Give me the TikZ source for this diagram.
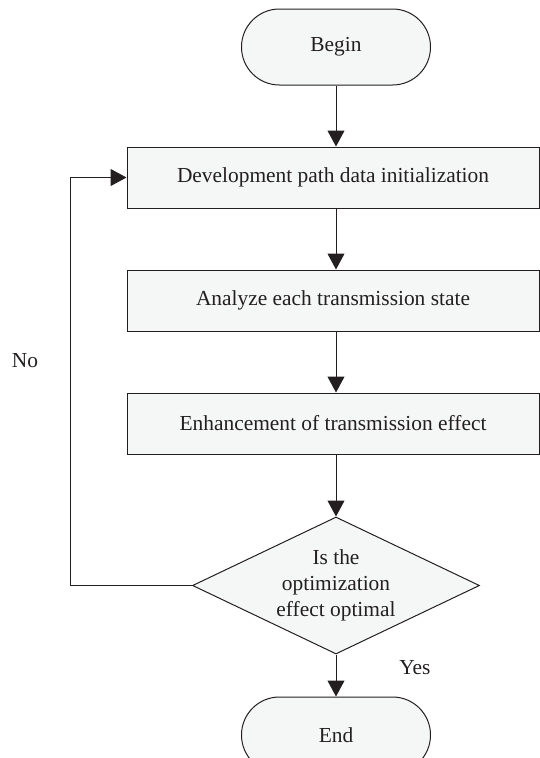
\documentclass[tikz,border=0pt]{standalone}
\usepackage{fontspec}
\setmainfont{Liberation Serif}
\usepackage{xcolor}
\usepackage{tikz}
\usetikzlibrary{arrows.meta,positioning,shapes.geometric}
\definecolor{inkgray}{HTML}{231F20}
\definecolor{paleface}{HTML}{F5F7F7}

\begin{document}
\begin{tikzpicture}[
  x=1pt, y=-1pt,
  node distance=61pt,
  every node/.style={font=\fontsize{21.4}{26}\selectfont, text=inkgray},
  terminal/.style={draw=inkgray, line width=1pt, fill=paleface, rounded corners=37.9pt, minimum width=189pt, minimum height=76pt},
  box/.style={draw=inkgray, line width=1pt, fill=paleface, minimum width=412pt, minimum height=61pt, align=center},
  decision/.style={draw=inkgray, line width=1pt, fill=paleface, diamond, aspect=2.09, minimum width=287pt, minimum height=137pt, inner sep=0pt, align=center},
  arrow/.style={-{Triangle[length=16pt, width=17pt]}, line width=1pt, draw=inkgray}
]
\useasboundingbox (0,0) rectangle (540,758);
\node[terminal] (begin) at (336,47) {Begin};
\node[box, below=61pt of begin, xshift=-3pt] (init) {Development path data initialization};
\node[box, below=of init] (analyze) {Analyze each transmission state};
\node[box, below=of analyze] (enhance) {Enhancement of transmission effect};
\node[decision, below=62pt of enhance, xshift=3pt] (check) {Is the\\optimization\\effect optimal};
\node[terminal, below=42pt of check] (stop) {End};
\coordinate (loop) at (70.6,0);
\node (no) at (25,361) {No};
\node (yes) at (415,668) {Yes};

\draw[arrow] (begin) -- (begin |- init.north);
\draw[arrow] (begin |- init.south) -- (begin |- analyze.north);
\draw[arrow] (begin |- analyze.south) -- (begin |- enhance.north);
\draw[arrow] (begin |- enhance.south) -- (check);
\draw[arrow] (check) -- (stop);
\draw[arrow] (check.west) -- (check.west -| loop) |- (init.west);
\end{tikzpicture}
\end{document}
